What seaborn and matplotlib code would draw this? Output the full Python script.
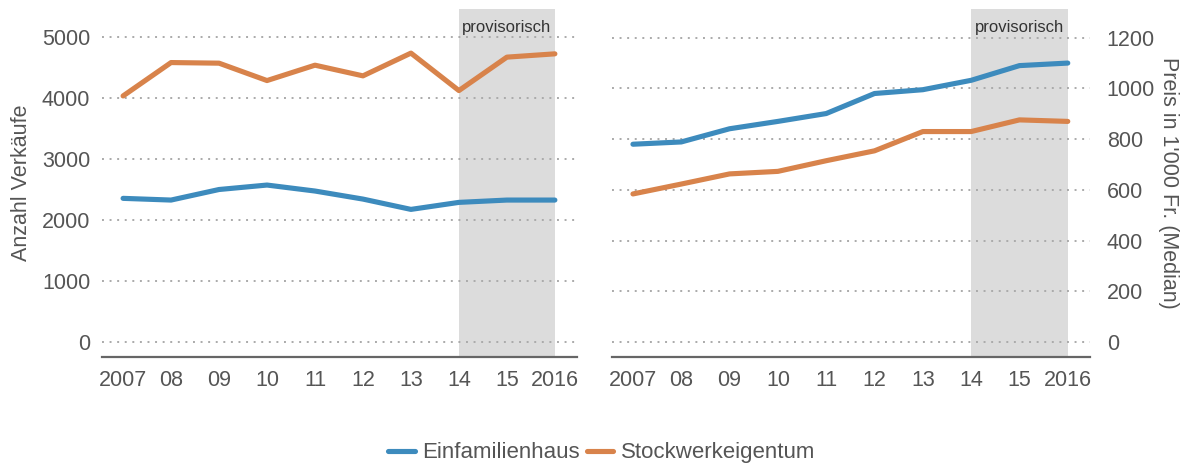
import matplotlib
matplotlib.use("Agg")
import matplotlib.pyplot as plt
import matplotlib.transforms as mtransforms
import seaborn as sb
import pandas as pd

years = [2007, 2008, 2009, 2010, 2011, 2012, 2013, 2014, 2015, 2016]
year_labels = ['2007', '08', '09', '10', '11', '12', '13', '14', '15', '2016']

# Anzahl Verkäufe
sales_efh = [2355, 2327, 2500, 2573, 2475, 2343, 2174, 2289, 2327, 2327]
sales_stwe = [4034, 4581, 4571, 4286, 4538, 4363, 4736, 4122, 4670, 4724]

# Preis in 1'000 Fr. (Median)
price_efh = [780, 789, 841, 870, 901, 980, 995, 1032, 1090, 1100]
price_stwe = [584, 623, 663, 673, 715, 754, 830, 830, 876, 870]

series = ['Einfamilienhaus', 'Stockwerkeigentum']
colors = {'Einfamilienhaus': '#3d8bbd', 'Stockwerkeigentum': '#d8834b'}

df_sales = pd.DataFrame({
    'Jahr': years * 2,
    'Wert': sales_efh + sales_stwe,
    'Typ': [series[0]] * len(years) + [series[1]] * len(years),
})
df_price = pd.DataFrame({
    'Jahr': years * 2,
    'Wert': price_efh + price_stwe,
    'Typ': [series[0]] * len(years) + [series[1]] * len(years),
})

sb.set_style('white')
plt.rcParams['font.family'] = ['Liberation Sans', 'DejaVu Sans']
text_col = '#555555'
fs = 15.5

fig = plt.figure(figsize=(11.94, 4.63), dpi=100)
ax1 = fig.add_axes([0.0854, 0.2289, 0.3978, 0.7510])
ax2 = fig.add_axes([0.5123, 0.2289, 0.4006, 0.7510])

for ax, df, ylim, yticks in [
    (ax1, df_sales, (-246, 5454), [0, 1000, 2000, 3000, 4000, 5000]),
    (ax2, df_price, (-59, 1312), [0, 200, 400, 600, 800, 1000, 1200]),
]:
    ax.axvspan(2014, 2016, color='#dcdcdc', lw=0, zorder=0)
    for y in yticks:
        ax.axhline(y, color='#aaaaaa', lw=1.4, ls=(0, (1, 2.9)), zorder=1)
    sb.lineplot(data=df, x='Jahr', y='Wert', hue='Typ', palette=colors,
                linewidth=3.7, ax=ax, legend=False, zorder=3)
    ax.set_xlim(2006.56, 2016.46)
    ax.set_ylim(*ylim)
    ax.set_yticks(yticks)
    ax.set_xticks(years)
    ax.set_xticklabels(year_labels)
    ax.set_xlabel('')
    for s in ['top', 'left', 'right']:
        ax.spines[s].set_visible(False)
    ax.spines['bottom'].set_color('#666666')
    ax.spines['bottom'].set_linewidth(1.6)
    ax.tick_params(axis='x', direction='out', length=6, width=1.6, color='#666666',
                   labelsize=fs, labelcolor=text_col, pad=3)
    ax.tick_params(axis='y', length=0, labelsize=fs, labelcolor=text_col)
    trans = mtransforms.blended_transform_factory(ax.transData, ax.transAxes)
    ax.text(2015, 0.949, 'provisorisch', transform=trans,
            ha='center', va='center', fontsize=12, color='#333333', zorder=4)

ax1.set_ylabel('Anzahl Verkäufe', fontsize=fs, color=text_col, labelpad=7)
ax2.set_ylabel("Preis in 1'000 Fr. (Median)", fontsize=fs, color=text_col,
               rotation=270, labelpad=17)
ax2.yaxis.set_label_position('right')
ax2.yaxis.tick_right()
ax2.tick_params(axis='y', pad=12)
ax1.tick_params(axis='y', pad=8.5)

handles = [plt.Line2D([], [], color=colors[s], lw=3.7) for s in series]
fig.legend(handles, series, loc='center', bbox_to_anchor=(0.504, 0.022),
           ncol=2, frameon=False, fontsize=16, handlelength=1.2,
           handletextpad=0.35, columnspacing=0.3, labelcolor=text_col,
           borderpad=0)

fig.savefig('out.png', dpi=100)
